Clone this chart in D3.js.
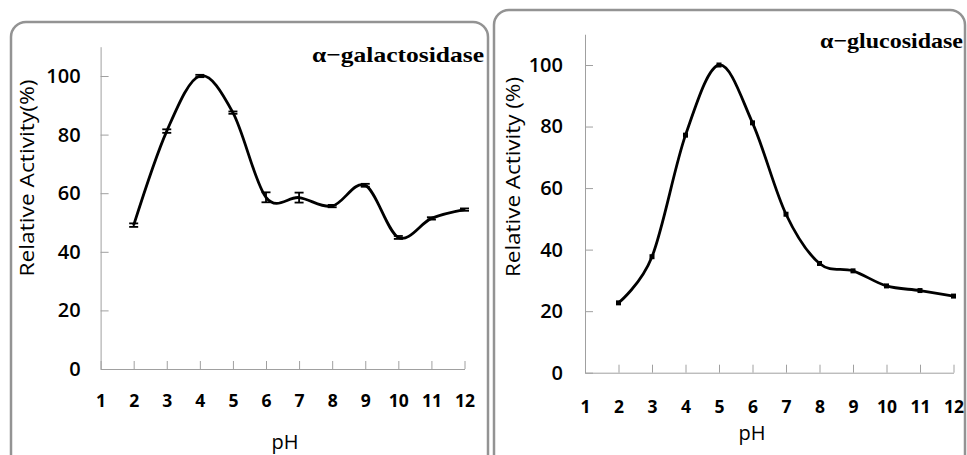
<!DOCTYPE html>
<html>
<head>
<meta charset="utf-8">
<script src="https://cdn.jsdelivr.net/npm/d3@7"></script>
<style>
  html, body { margin: 0; padding: 0; background: #fff; }
  svg { display: block; }
</style>
</head>
<body>
<svg id="chart" width="967" height="455"></svg>
<script>
// ---- data ----
const pH = [2, 3, 4, 5, 6, 7, 8, 9, 10, 11, 12];
const xTicks = [1, 2, 3, 4, 5, 6, 7, 8, 9, 10, 11, 12];
const yTicks = [0, 20, 40, 60, 80, 100];
const galactosidase = [49.1, 81.2, 100, 87.5, 58.6, 58.5, 55.6, 62.7, 44.9, 51.4, 54.4];
const galactosidaseErr = [0.6, 0.6, 0.4, 0.4, 1.7, 1.7, 0.4, 0.5, 0.5, 0.4, 0.4];
const glucosidase = [22.7, 37.7, 77.2, 100, 81.2, 51.5, 35.5, 33.1, 28.2, 26.7, 24.9];
const titles = ["α−galactosidase", "α−glucosidase"];
const yTitles = ["Relative Activity(%)", "Relative Activity (%)"];
const xTitle = "pH";

const svg = d3.select("#chart");

const panels = [
  { box: [11, 22, 477, 450], xr: [100.6, 464.5], y0: 369, ypx: 2.93,
    values: galactosidase, err: galactosidaseErr, title: titles[0], yTitle: yTitles[0],
    titleX: 312, titleY: 62, titleLen: 172, yLabPad: 20, xLabPad: 26,
    yTitleX: 27, yTitleY: 178, yTitleLen: 197, pHx: 285, pHy: 449, marker: "cap" },
  { box: [494, 10, 471, 470], xr: [585, 953.5], y0: 372.7, ypx: 3.077,
    values: glucosidase, err: null, title: titles[1], yTitle: yTitles[1],
    titleX: 820, titleY: 48, titleLen: 143, yLabPad: 22, xLabPad: 27.5,
    yTitleX: 513, yTitleY: 177, yTitleLen: 200, pHx: 752, pHy: 440, marker: "square" }
];

panels.forEach(p => {
  const g = svg.append("g");
  // rounded frame
  g.append("rect")
    .attr("x", p.box[0]).attr("y", p.box[1])
    .attr("width", p.box[2]).attr("height", p.box[3])
    .attr("rx", 15).attr("ry", 15)
    .attr("fill", "none").attr("stroke", "#939393").attr("stroke-width", 2.5);

  const x = d3.scaleLinear().domain([1, 12]).range(p.xr);
  const y = d3.scaleLinear().domain([0, 110]).range([p.y0, p.y0 - 110 * p.ypx]);

  // y axis
  const ya = g.append("g").attr("transform", `translate(${p.xr[0]},0)`)
    .call(d3.axisLeft(y).tickValues(yTicks).tickSize(-8).tickSizeOuter(0).tickPadding(p.yLabPad));
  ya.selectAll("path, line").attr("stroke", "#a0a0a0").attr("stroke-width", 1);
  ya.selectAll("text").attr("font-family", "'Open Sans', sans-serif").attr("font-size", 20)
    .attr("font-weight", 600).attr("fill", "#000");

  // x axis
  const xa = g.append("g").attr("transform", `translate(0,${p.y0})`)
    .call(d3.axisBottom(x).tickValues(xTicks).tickSize(-8).tickSizeOuter(0).tickPadding(p.xLabPad));
  xa.selectAll("path, line").attr("stroke", "#a0a0a0").attr("stroke-width", 1);
  xa.selectAll("text").attr("font-family", "'Open Sans', sans-serif").attr("font-size", 17.5)
    .attr("font-weight", "bold").attr("fill", "#000");

  // curve
  const pts = pH.map((v, i) => [v, p.values[i]]);
  const line = d3.line().x(d => x(d[0])).y(d => y(d[1])).curve(d3.curveCardinal.tension(0));
  g.append("path").datum(pts).attr("d", line)
    .attr("fill", "none").attr("stroke", "#000").attr("stroke-width", 2.8)
    .attr("stroke-linejoin", "round");

  // markers
  if (p.marker === "cap") {
    pts.forEach((d, i) => {
      const cx = x(d[0]), e = p.err[i];
      const top = y(d[1] + e), bot = y(d[1] - e);
      g.append("line").attr("x1", cx).attr("x2", cx).attr("y1", top).attr("y2", bot)
        .attr("stroke", "#000").attr("stroke-width", 1.8);
      [top, bot].forEach(yy => g.append("line")
        .attr("x1", cx - 4.5).attr("x2", cx + 4.5).attr("y1", yy).attr("y2", yy)
        .attr("stroke", "#000").attr("stroke-width", 1.8));
    });
  } else {
    g.selectAll(null).data(pts).enter().append("rect")
      .attr("x", d => x(d[0]) - 2.5).attr("y", d => y(d[1]) - 2.5)
      .attr("width", 5).attr("height", 5).attr("fill", "#000");
  }

  // title
  g.append("text").attr("x", p.titleX).attr("y", p.titleY)
    .attr("font-family", "'Liberation Serif', serif").attr("font-weight", "bold")
    .attr("font-size", 22).attr("textLength", p.titleLen).attr("lengthAdjust", "spacingAndGlyphs")
    .text(p.title);

  // y title
  g.append("text")
    .attr("transform", `translate(${p.yTitleX},${p.yTitleY}) rotate(-90)`)
    .attr("text-anchor", "middle").attr("dy", "0.35em")
    .attr("font-family", "'Open Sans', sans-serif").attr("font-size", 20)
    .attr("textLength", p.yTitleLen).attr("lengthAdjust", "spacingAndGlyphs")
    .text(p.yTitle);

  // x title
  g.append("text").attr("x", p.pHx).attr("y", p.pHy).attr("text-anchor", "middle")
    .attr("font-family", "'Open Sans', sans-serif").attr("font-size", 20)
    .text(xTitle);
});
</script>
</body>
</html>
